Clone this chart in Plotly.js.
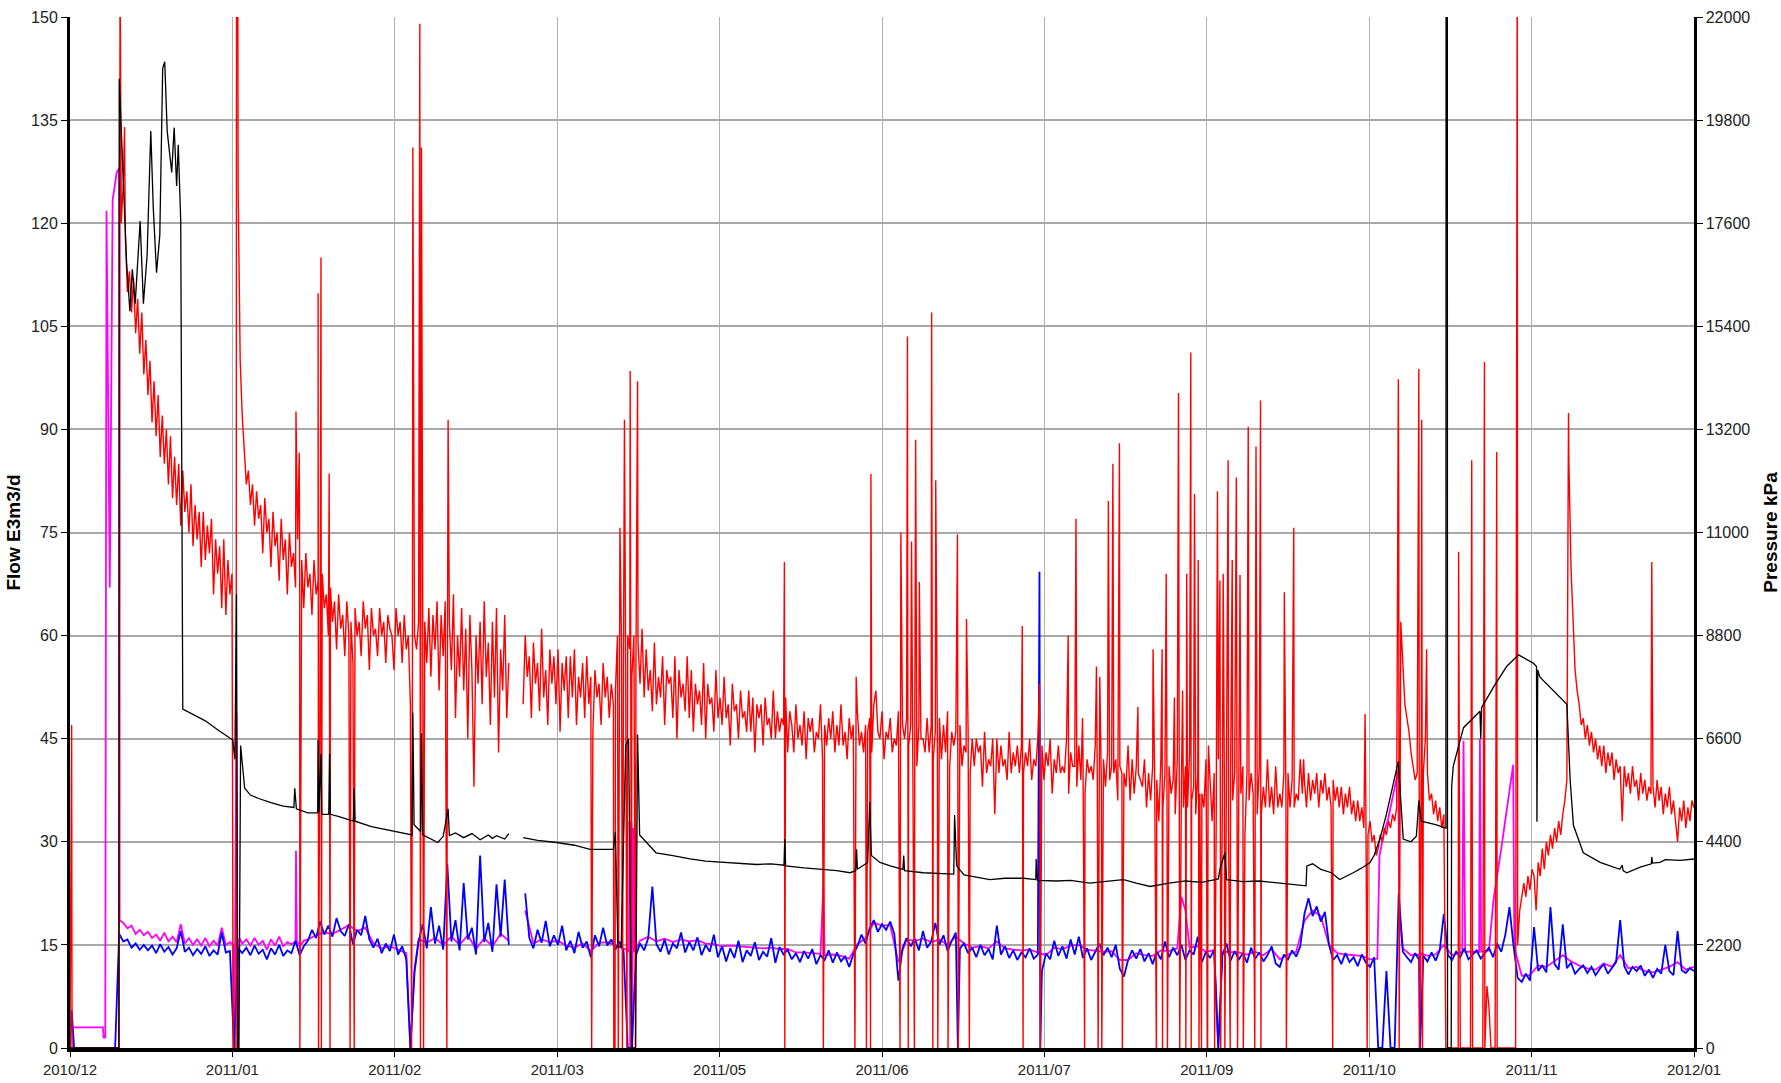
<!DOCTYPE html>
<html>
<head>
<meta charset="utf-8">
<script src="https://cdn.plot.ly/plotly-3.0.1.min.js"></script>
<style>html,body{margin:0;padding:0;background:#fff}#chart{width:1781px;height:1083px}</style>
</head>
<body>
<div id="chart"></div>
<script>
// Time axis: day number counted from 2010/12/01 (0) to 2012/01/01 (396)
const xTickLabels = ['2010/12','2011/01','2011/02','2011/03','2011/05','2011/06','2011/07','2011/09','2011/10','2011/11','2012/01'];
const yFlowRange = [0, 150];
const yPressureRange = [0, 22000];

// ---- Red series (half-day samples), in segments: [start day, values] ----
const redA = [0,0,0,0,0,0,0,0,0,0,0,0,0,0,0,0,0,0,0,0,0,0,0,0,0]; // day 0 - 12
const redB = [ // day 12.5 - 39.5
 120,126,118,110,113,107,112,104,109,101,
 107,98,103,95,100,91,97,89,95,86,
 92,85,90,82,89,80,86,79,85,76,
 84,78,81,75,82,73,79,74,78,70,
 78,71,76,72,77,66,74,69,73,64,
 74,63,71,66,69];
const redC = [ // day 40 - 107
 0,0,125,100,92,86,82,84,79,82,
 76,81,77,79,72,80,75,77,70,78,
 73,75,68,77,71,74,66,75,70,72,
 67,74,69,71,64,72,67,69,63,71,
 66,68,61,69,64,66,60,67,62,65,
 58,66,61,63,57,65,60,62,56,64,
 60,62,57,65,61,63,55,64,60,61,
 57,64,60,62,56,63,61,60,55,64,
 60,62,56,63,58,60,50,55,60,58,
 62,75,66,62,56,64,54,63,58,65,
 52,63,57,65,50,62,55,66,48,60,
 54,64,52,61,45,63,55,38,60,53,
 62,50,65,54,59,47,62,51,64,43,
 58,52,63,48,56];
const redD = [ // day 107.5 - 132.5 (data gap first)
 null,null,null,null,null,null,
 50,60,54,57,48,59,53,56,49,61,
 51,55,47,58,53,57,50,58,46,56,
 52,57,48,57,51,58,47,54,51,56,
 48,57,50,54,46,55,51,53,47,56,
 51,54,48,53,50];
const redE = [ // day 133 - 175.5
 52,60,55,58,62,55,60,58,54,60,
 56,59,53,61,51,58,52,55,49,59,
 50,54,51,57,47,55,53,54,48,57,
 45,55,51,53,49,57,48,55,46,53,
 50,52,47,56,45,53,50,51,46,55,
 48,51,47,54,48,50,44,53,49,50,
 45,52,48,49,46,52,46,51,43,50,
 48,50,44,51,47,48,45,52,45,49,
 46,48,47,51,43,49];
const redF = [ // day 176 - 231.5
 47,43,50,45,47,44,49,42,48,46,
 48,43,46,45,50,42,47,44,48,45,
 49,43,47,44,50,44,46,42,48,45,
 47,42,49,44,46,43,47,46,48,43,
 50,52,46,45,49,42,46,45,48,43,
 45,44,49,42,47,45,48,44,47,43,
 48,41,47,45,45,43,48,43,47,42,
 46,45,48,42,47,43,49,41,46,44,
 46,44,47,41,44,43,46,40,45,41,
 45,43,44,38,46,40,42,41,45,34,
 45,40,44,41,42,39,46,40,43,41,44,40];
const redG = [ // day 232 - 299.5
 44,40,43,41,45,39,42,41,45,42,
 44,39,43,41,45,37,42,40,44,40,
 41,40,45,37,43,41,41,38,44,39,
 43,37,42,40,41,39,44,39,41,38,
 42,38,43,39,41,40,42,36,41,40,
 40,38,44,36,42,37,41,40,39,38,
 42,35,40,36,41,38,39,33,42,35,
 40,36,41,37,39,34,42,35,38,35,
 41,35,43,36,38,34,40,37,37,35,
 42,37,39,33,40,34,42,35,37,37,
 41,32,40,36,40,35,37,37,41,31,
 40,36,40,37,37,34,41,34,38,35,
 42,35,38,34,41,35,37,35,40,36,
 40,35,39,35,37,36];
const redH = [ // day 300 - 335
 42,37,39,35,40,36,39,37,40,35,
 39,37,40,36,38,35,39,36,38,35,
 38,34,37,35,38,34,36,33,36,33,
 35,32,34,31,33,30,31,28,29,31,
 30,32,31,33,32,34,33,35,80,62,
 55,50,48,46,43,41,39,40,38,44,
 40,45,40,36,37,34,36,33,35,32,34];
const redI = [ // day 335.5 - 353
 0,0,0,0,0,0,0,0,0,0,0,0,0,0,0,0,0,0,0,0,
 9,6,0,0,0,0,0,0,0,0,0,0,0,0,0,15];
const redJ = [ // day 353.5 - 396
 20,22,24,22,25,23,26,25,20,27,
 25,29,26,30,28,31,29,32,30,33,
 31,34,36,39,85,70,62,55,52,50,
 47,48,45,47,44,46,43,45,42,44,
 41,44,40,43,41,43,39,42,40,41,
 33,41,38,40,37,41,38,39,36,40,
 37,39,36,38,37,38,35,39,36,38,
 34,37,35,38,34,36,33,30,35,33,
 36,32,35,33,36,35];
const redSegmentStart = [0, 12.5, 40, 107.5, 133, 176, 232, 300, 335.5, 353.5];

// Red spikes (day, value)
const redSpikeDay = [
 0.4,12.2,13.3,39.8,40.6,40.9,55.1,55.9,56.05,60.5,
 60.6,61.2,61.3,63.2,63.4,68.3,69.3,83.3,83.6,85.3,
 85.45,85.7,86.2,91.9,92.2,127.2,132.6,132.9,133.7,134.1,
 134.7,135.2,135.8,136.6,136.9,137.9,138.4,174.2,174.3,183.7,
 191.4,191.7,194.2,195.2,195.3,202.4,202.6,204.2,204.4,205.2,
 205.9,206.2,207.1,210.1,210.4,211.1,211.6,214.1,216.4,216.6,
 218.6,219.3,232.2,232.4,236.4,236.6,243.4,245.3,246.9,247.4,
 250.3,250.7,251.1,251.6,253.2,254.3,255.9,256.6,260.4,264.1,
 264.9,266.3,266.4,267.3,267.6,269.3,270.3,270.6,271.3,272.1,
 272.3,273.3,273.4,274.2,275.1,275.3,275.9,277.4,277.6,279.1,
 279.8,280.4,280.6,281.2,281.6,282.4,282.9,283.4,284.4,284.7,
 285.3,286.1,287.3,288.9,289.2,290.3,290.4,296.1,296.6,298.4,
 300.8,307.9,315.8,316.3,323.9,324.1,328.9,329.1,329.6,329.8,
 330.8,338.6,341.8,344.9,347.9,352.9,365.4,385.7];
const redSpikeVal = [
 47,160,134,0,160,160,92.6,86.6,0,109.8,
 0,115,0,83.6,0,0,0,0,131,149,
 0,131,0,0,91.4,0,0,0,0,75.7,
 0,91.4,0,98.5,0,0,97,70.7,0,0,
 0,54,0,0,83.5,0,75,103.5,0,73.7,
 0,88.5,67.8,107,0,82.6,0,0,74.7,0,
 62.4,0,61.4,0,53,0,60,77,48,0,
 55.5,0,54,0,79.6,85,88,0,49.6,58,
 0,58,0,69,0,51,95.3,0,52,0,
 69,101.2,0,80.6,71,0,0,0,44,0,
 81,68,0,69,0,85.5,0,71,83,0,
 68.8,0,90.4,0,87.5,94.2,0,66.3,0,75.7,
 42,0,48.6,0,97.3,0,98.8,0,91.4,0,
 58,72.2,85.5,99.8,86.7,160,92.4,70.7];

// ---- Blue series (daily samples) ----
const blueA = [0,0,0,0,0,0,0,0,0,0,0,0]; // day 0 - 11
const blueB = [ // day 12 - 107
 16.6,15.5,15.8,14.6,15.2,14.3,15.0,14.2,14.9,13.8,
 15.1,14.0,14.7,13.6,14.5,17.0,14.0,14.6,13.5,14.4,
 13.7,14.8,13.4,14.2,13.6,16.8,13.9,14.1,0,14.5,
 13.8,14.6,13.5,14.9,13.7,14.3,12.9,14.5,13.6,15.0,
 13.4,14.2,13.8,15.6,13.5,14.8,15.6,17.2,16.0,18.4,
 16.5,17.8,16.2,18.9,17.0,16.3,18.0,15.1,17.2,16.4,
 19.2,15.8,14.6,15.9,13.8,15.2,14.1,16.5,13.6,14.8,
 12.9,0,11.0,15.5,18.0,14.5,20.5,15.2,17.8,14.3,
 26.8,15.5,18.6,14.2,24.0,15.8,17.5,13.6,28.0,15.4,
 18.2,14.0,23.8,16.2,24.5,15.0];
const blueC = [ // day 108 - 396 (gap first)
 null,null,null,
 22.5,16.0,14.5,17.2,15.3,18.5,14.8,16.4,15.0,17.8,
 14.2,15.6,13.8,16.9,14.6,15.5,13.2,16.4,14.8,17.5,
 14.9,15.8,14.3,15.5,14.0,0,0,13.5,15.2,14.2,
 16.0,23.5,15.1,14.0,15.8,13.6,15.2,14.5,16.8,13.9,
 15.4,14.2,16.1,13.5,15.0,14.0,16.5,13.2,14.8,12.6,
 14.5,13.1,15.6,12.5,14.2,13.4,15.4,12.8,14.0,13.3,
 16.0,12.4,14.7,13.6,14.3,12.9,13.8,12.5,14.1,13.0,
 14.4,12.2,13.5,12.8,14.2,12.4,13.9,12.6,13.3,11.8,
 13.6,14.8,16.5,15.2,17.5,18.6,16.9,18.0,17.2,18.4,
 16.6,9.8,14.5,16.0,14.8,15.9,14.2,17.0,14.6,15.5,
 18.2,15.0,16.4,14.1,15.6,16.8,14.5,15.2,13.8,14.6,
 13.2,15.0,13.5,14.4,12.9,17.8,13.6,14.8,13.1,14.2,
 12.8,13.9,13.2,14.5,13.0,13.6,11.2,13.8,12.9,15.6,
 13.4,14.8,13.0,15.8,13.6,16.2,13.1,14.5,12.8,14.0,
 15.2,13.5,14.6,13.2,15.0,11.5,10.4,12.8,14.2,13.0,
 14.4,12.6,13.8,12.2,14.0,12.9,15.5,13.2,14.6,13.5,
 15.0,12.8,14.2,13.6,16.2,12.5,14.0,13.1,14.3,0,
 13.5,15.2,12.7,14.1,12.9,13.8,12.4,14.6,13.0,13.9,
 12.6,13.5,14.8,12.3,11.8,13.6,12.9,14.2,13.3,14.8,
 19.5,21.8,19.2,20.6,18.4,19.8,15.0,12.8,13.5,12.2,
 13.8,12.5,13.2,11.9,13.6,12.4,11.8,13.2,0,0,
 11.2,0,0,22.5,14.0,13.2,12.5,13.8,12.8,13.4,
 12.6,13.9,12.7,14.2,19.5,13.5,12.8,14.0,13.2,14.5,
 12.9,13.6,14.2,13.0,13.8,14.6,13.2,15.2,14.0,16.5,
 20.5,14.8,10.2,9.6,10.8,9.8,17.6,11.2,12.0,11.0,
 20.5,12.2,11.4,18.0,11.6,12.4,10.8,11.5,12.0,10.9,
 11.8,10.6,11.5,12.2,10.8,11.6,12.5,18.6,11.9,10.7,
 11.8,11.2,12.0,10.5,11.4,10.2,11.5,10.8,15.0,11.2,
 10.6,17.0,11.3,10.9,11.6,11.2];
const blueSegmentStart = [0, 12, 108];
const blueSpikeDay = [0.4, 216.5, 236.4, 236.6, 329.2];
const blueSpikeVal = [5.5, 0, 69.3, 0, 0];

// ---- Magenta series (day, flow) ----
const magentaDay = [
 0,8,8.2,8.6,8.9,9.7,10.4,11.4,12.0,12.1,
 13,14,15,16,17,18,19,20,21,22,
 23,24,25,26,27,28,29,30,31,32,
 33,34,35,36,37,38,39,39.8,40.1,40.6,
 40.9,41.3,42,43,44,45,46,47,48,49,
 50,51,52,53,54,55,55.1,55.3,56,57,
 58,60,62,64,66,68,70,72,74,76,
 78,80,82,83,84,85,87,89,91,93,
 95,97,99,101,103,105,107,107.5,111,113,
 115,117,119,121,123,125,127,129,131,133,
 135,136.3,136.4,136.6,136.9,137.1,137.3,137.6,139,141,
 143,145,147,149,151,153,155,157,159,161,
 163,165,167,169,171,173,175,177,179,181,
 183,183.7,184,186,188,190,192,194,196,198,
 200,202,204,206,208,210,212,214,216,218,
 220,222,224,226,228,230,232,234,236,238,
 240,242,244,246,248,250,252,254,256,258,
 260,262,264,266,268,270,271,272,273,275,
 277,279,280,281,283,285,287,289,291,293,
 295,297,299,301,303,305,307,309,311,313,
 315,317,318.8,319.3,320.5,321.5,322.5,323.5,323.9,324.1,
 325,327,329,329.1,329.3,331,333,335,337,339.5,
 339.8,340.2,342,343.6,343.8,344.1,346,347.1,349,350.5,
 351.9,352.2,354,356,358,360,362,364,366,368,
 370,372,374,376,378,380,382,384,386,388,
 390,392,394,396];
const magentaFlow = [
 3,3,1.5,1.5,121.8,67,123.4,127.4,128,18.6,
 18.2,17.4,17.8,16.6,17.2,16.4,16.9,16.0,16.5,15.6,
 16.8,15.5,16.2,15.4,18.0,15.2,16.0,15.0,15.8,14.9,
 16.0,14.8,15.6,14.9,17.5,15.0,15.4,15,0,48.8,
 0,16,15.2,15.8,14.9,16.0,15.0,15.6,14.3,15.8,
 14.9,16.2,14.8,15.4,15.1,15.5,28.7,15.6,14.8,15.6,
 15.8,16.4,16.8,16.6,17.2,17.9,17.0,17.5,15.2,14.5,
 14.8,14.3,13.8,0,11.5,15.8,15.3,16.0,15.0,16.2,
 15.0,16.4,14.4,16.0,14.8,16.6,15.6,null,20.0,15.2,
 15.8,15.4,15.6,14.9,14.6,15.2,14.1,15.3,15.4,14.9,
 14.5,14,33,0,33,0,32,14,15.6,16.2,
 15.5,15.9,15.4,15.8,15.5,15.7,15.2,15.1,14.8,14.9,
 14.8,14.6,14.5,14.5,14.6,14.4,14.4,13.9,13.9,13.8,
 13.7,23.5,13.5,13.6,13.4,13.0,15.1,16.0,18.2,17.8,
 17.9,12.5,15.8,15.6,15.9,15.4,15.8,15.0,16.2,15.2,
 14.6,14.8,14.5,15.5,14.5,14.3,14.2,14.3,13.9,13.5,
 14.6,14.4,14.9,15.0,14.3,14.2,14.0,14.1,12.8,12.8,
 13.8,13.5,13.4,14.2,14.1,14.5,22,20,14.6,14.8,
 14.0,14.2,0,14.0,14.0,13.9,13.6,14.0,13.5,14.4,
 12.9,13.6,14.0,18.5,20.0,19.2,15.0,13.8,13.6,13.5,
 13.4,12.9,13,28,31.5,33.5,36.5,39.8,40.5,20,
 14.5,13.5,13.6,0,13.8,13.4,13.6,15.0,13.5,14,
 44.7,14,14,14,45,14,14.2,21.5,29,35,
 41.2,14.5,10.5,10.6,12,11.8,12.6,13.5,12.6,12.0,
 11.6,11.4,12.3,11.8,13.5,11.6,11.8,11.2,11.0,11.4,
 11.8,12.5,11.4,11.8];

// ---- Black series (day, value on the flow scale) ----
const blackDay = [
 0,11.9,12.0,12.3,13.4,13.8,14.6,15.2,15.9,17.1,
 17.9,18.8,19.7,20.3,21.1,21.9,22.6,23.1,23.7,24.8,
 25.4,26.0,26.4,27.0,27.5,30,33,36,39.7,40.2,
 40.6,40.9,41.2,41.6,42.2,42.6,44,46,49,52,
 54.6,54.8,55.2,58,60.4,60.5,60.7,61.2,61.4,63.1,
 63.3,63.5,65.4,69.1,69.3,69.5,73.5,77,81.6,83.4,
 83.6,83.9,85.5,85.7,86.0,89.7,91,92.2,92.5,94,
 96,98,100,102,103,104,106,107,107.5,110.5,
 114,118.7,123,126.8,132.5,133.0,133.6,134.4,135.5,136.2,
 136.6,137.0,137.9,138.4,138.9,142.9,147,151.2,155,159.3,
 163,167.4,171,174.1,174.3,174.5,179,183.7,187,190.2,
 191.6,191.8,192,194.5,195,195.4,197.5,200,203.1,203.3,
 203.5,208.1,212,215.5,215.7,216.2,218,224.3,228,232.5,
 235.5,235.6,235.9,240.6,244,248.7,252,256.9,260,263.4,
 268,272,276,280,280.4,281.6,282,286,290,294,
 298,301.4,301.6,303,305,307.6,309.6,312.9,315,317,
 318,319.4,321,322.5,323.9,325.1,327,328.3,328.9,329.5,
 331,333,335.5,335.55,335.85,335.9,336.8,336.9,337.3,339.8,
 343.8,344.0,344.2,347.1,350.3,353.2,356.8,357.6,357.7,357.9,
 358.4,361.7,365.0,365.8,366.6,369.0,373.1,377.9,378.5,378.7,
 379.6,382.9,385.6,385.7,385.9,387.7,389,392.6,396];
const blackPressure = [
 0,0,141,136.4,121.3,114.3,107.2,113.3,108.3,120.3,
 108.3,115.3,133.4,122.3,112.8,118.3,142.5,143.5,133.4,127.4,
 133.9,125.4,131.4,120.3,49.3,48.5,47.6,46.3,44.8,42,
 66,0,0,44,40,37.8,36.8,36.3,35.7,35.2,
 35,37.8,34.8,34.2,34.2,44.8,34.3,42.8,34,34,
 42.8,34,33.7,33,37.8,33,32.2,31.8,31.2,31,
 48.8,32.5,31.5,45.8,31,29.9,30.8,34.8,30.9,31.3,
 30.6,31.2,30.3,31.0,30.5,30.9,30.4,31.2,null,30.6,
 30.2,29.9,29.5,28.9,28.9,31.4,14.7,14.7,44,45,
 20,0,0,45.6,31,28.4,28,27.5,27.2,27,
 26.8,26.7,26.8,26.6,30.4,26.5,26.2,26,25.8,25.5,
 25.8,28.9,26,27,35.8,28,27,26.5,26,28,
 25.8,25.5,25.4,25.3,33.9,26.5,25.2,24.5,24.7,24.7,
 24.5,27.5,24.4,24.3,24.4,24,24.2,24.5,24,23.5,
 24,24.3,24.1,24.6,26,28.4,24.5,24.2,24.3,24,
 23.8,23.6,26.5,26.8,26,25.5,24.5,25.5,26.2,27,
 28,30.4,34,38,41.7,30.4,30,30.8,36,33,
 32.8,32.5,32,160,160,0,0,38,41,46.6,
 49,45,49.5,52.5,55.5,57.2,56,55.5,32.9,55,
 54,52,50,39,32.4,28.4,27,26,26.6,25.8,
 25.5,26.3,26.8,27.8,26.9,27,27.4,27.3,27.5];

// ---- assemble sampled segments + spikes into one ordered line ----
function assemble(starts, segments, step, spikeDay, spikeVal) {
  const pts = [];
  segments.forEach((vals, s) => vals.forEach((v, i) => pts.push([starts[s] + i * step, v])));
  spikeDay.forEach((d, i) => pts.push([d, spikeVal[i]]));
  pts.sort((a, b) => a[0] - b[0]);
  return { x: pts.map(p => p[0]), y: pts.map(p => p[1]) };
}

const red = assemble(redSegmentStart, [redA, redB, redC, redD, redE, redF, redG, redH, redI, redJ], 0.5, redSpikeDay, redSpikeVal);
const blue = assemble(blueSegmentStart, [blueA, blueB, blueC], 1, blueSpikeDay, blueSpikeVal);

const lastDay = 396;
const tickVals = xTickLabels.map((_, i) => i * lastDay / (xTickLabels.length - 1));

const traces = [
  { x: magentaDay, y: magentaFlow, mode: 'lines', line: { color: '#ff00ff', width: 1.8 }, hoverinfo: 'skip' },
  { x: blue.x, y: blue.y, mode: 'lines', line: { color: '#0000ff', width: 1.8 }, hoverinfo: 'skip' },
  { x: red.x, y: red.y, mode: 'lines', line: { color: '#ff0000', width: 1.4 }, hoverinfo: 'skip' },
  { x: blackDay, y: blackPressure, mode: 'lines', line: { color: '#000000', width: 1.3 }, hoverinfo: 'skip' },
  { x: [], y: [], yaxis: 'y2', mode: 'lines', hoverinfo: 'skip' }
];

const FONT = 'Liberation Sans, Arial, sans-serif';
const layout = {
  width: 1781, height: 1083,
  margin: { l: 70, r: 87, t: 17, b: 35 },
  paper_bgcolor: '#ffffff', plot_bgcolor: '#ffffff',
  showlegend: false,
  font: { family: FONT, size: 15, color: '#222222' },
  xaxis: {
    range: [0, lastDay], tickmode: 'array', tickvals: tickVals, ticktext: xTickLabels,
    showgrid: true, gridcolor: '#b0b0b0', gridwidth: 1,
    showline: true, linecolor: '#000000', linewidth: 4,
    ticks: 'outside', ticklen: 5, tickcolor: '#000000', zeroline: false,
    tickfont: { size: 15, family: FONT, color: '#222222' }
  },
  yaxis: {
    range: yFlowRange, tick0: 0, dtick: 15,
    showgrid: true, gridcolor: '#a8a8a8', gridwidth: 2,
    showline: true, linecolor: '#000000', linewidth: 3,
    ticks: 'outside', ticklen: 6, tickcolor: '#000000', zeroline: false,
    tickfont: { size: 16, family: FONT, color: '#222222' },
    title: { text: 'Flow E3m3/d', standoff: 6, font: { size: 19, family: FONT, color: '#000000', weight: 'bold' } }
  },
  yaxis2: {
    overlaying: 'y', side: 'right', range: yPressureRange, tick0: 0, dtick: 2200, tickformat: 'd',
    showgrid: false, showline: true, linecolor: '#000000', linewidth: 2.5,
    ticks: 'outside', ticklen: 6, tickcolor: '#000000', zeroline: false,
    tickfont: { size: 16, family: FONT, color: '#222222' },
    title: { text: 'Pressure kPa', standoff: 20, font: { size: 19, family: FONT, color: '#000000', weight: 'bold' } }
  }
};

Plotly.newPlot('chart', traces, layout, { staticPlot: true, displayModeBar: false });
</script>
</body>
</html>
